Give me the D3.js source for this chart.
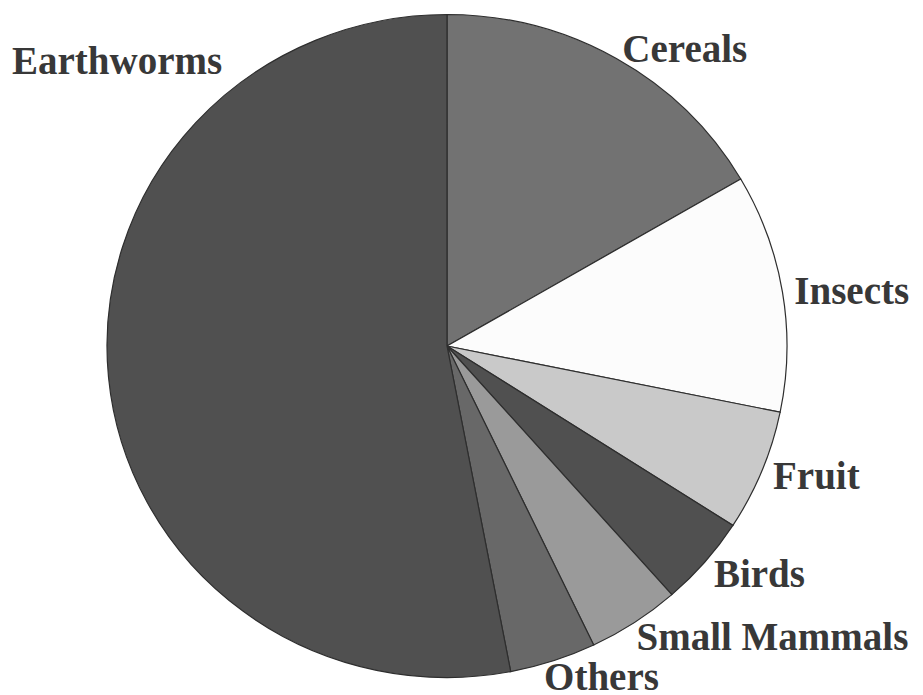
<html>
<head>
<meta charset="utf-8">
<script src="https://cdn.jsdelivr.net/npm/d3@7"></script>
<style>
  body { margin: 0; background: #fff; }
  text { font-family: "Liberation Serif", "Times New Roman", serif; }
</style>
</head>
<body>
<div id="chart"></div>
<script>
// diet shares (percent), clockwise from 12 o'clock
var categories = ["Cereals", "Insects", "Fruit", "Birds", "Small Mammals", "Others", "Earthworms"];
var values     = [16.6, 11.6, 5.9, 4.4, 4.4, 4.1, 53.0];
var shades     = ["#727272", "#fcfcfc", "#c9c9c9", "#505050", "#9a9a9a", "#686868", "#505050"];

var width = 923, height = 695;
var cx = 447, cy = 346, radius = 340, squash = 0.975;

var svg = d3.select("#chart").append("svg")
    .attr("width", width)
    .attr("height", height);

var data = categories.map(function(c, i) { return { name: c, value: values[i], fill: shades[i] }; });

var pie = d3.pie().sort(null).value(function(d) { return d.value; });
var arc = d3.arc().innerRadius(0).outerRadius(radius);

var g = svg.append("g")
    .attr("transform", "translate(" + cx + "," + cy + ") scale(1," + squash + ")");

g.selectAll("path")
    .data(pie(data))
    .enter()
    .append("path")
    .attr("d", arc)
    .attr("fill", function(d) { return d.data.fill; })
    .attr("stroke", "#2e2e2e")
    .attr("stroke-width", 1.2)
    .attr("vector-effect", "non-scaling-stroke");

// labels: just outside the rim at the slice mid angle, left aligned
// (the big slice gets its label parked in the top-left corner)
var labelR = 352;
svg.selectAll("text.lbl")
    .data(pie(data))
    .enter()
    .append("text")
    .attr("class", "lbl")
    .attr("x", function(d) {
        if (d.data.name === "Earthworms") return 12;
        var a = (d.startAngle + d.endAngle) / 2;
        return cx + labelR * Math.sin(a) - (a > 2.4 ? (a - 2.4) * 30 : 0);
    })
    .attr("y", function(d) {
        if (d.data.name === "Earthworms") return 60;
        var a = (d.startAngle + d.endAngle) / 2;
        return cy - labelR * Math.cos(a) * squash + (a > 2 ? 4 : 0);
    })
    .attr("dy", "0.35em")
    .attr("text-anchor", "start")
    .attr("font-size", "39px")
    .attr("font-weight", "bold")
    .attr("fill", "#383838")
    .text(function(d) { return d.data.name; });
</script>
</body>
</html>
